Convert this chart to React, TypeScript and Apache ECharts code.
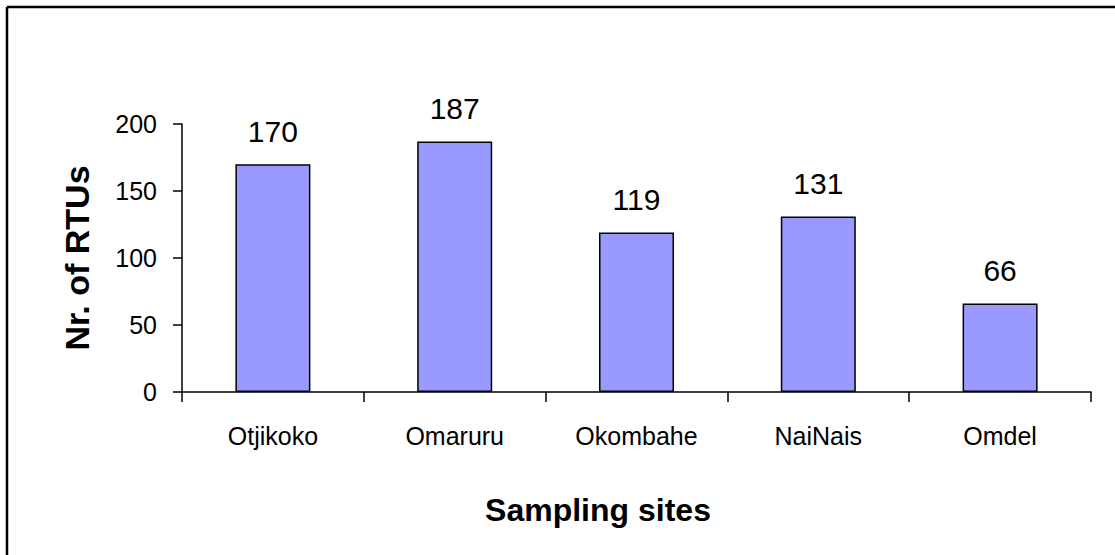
import React, { useEffect, useRef } from "react";
import * as echarts from "echarts";

const categories = ["Otjikoko", "Omaruru", "Okombahe", "NaiNais", "Omdel"];
const values = [170, 187, 119, 131, 66];
const yTicks = { min: 0, max: 200, interval: 50 };
const xTitle = "Sampling sites";
const yTitle = "Nr. of RTUs";

const FONT = "'Liberation Sans', Arial, sans-serif";

export default function App() {
  const ref = useRef<HTMLDivElement>(null);
  useEffect(() => {
    document.body.style.margin = "0";
    if (!ref.current) return;
    const chart = echarts.init(ref.current, undefined, { renderer: "svg" });
    chart.setOption({
      animation: false,
      backgroundColor: "#ffffff",
      grid: { left: 182, top: 124, right: 24, bottom: 163, containLabel: false },
      xAxis: {
        type: "category",
        data: categories,
        axisLine: { lineStyle: { color: "#000", width: 1.5 } },
        axisTick: { show: true, length: 10, lineStyle: { color: "#000", width: 1.5 } },
        axisLabel: { color: "#000", fontSize: 25, fontFamily: FONT, margin: 31 },
      },
      yAxis: {
        type: "value",
        min: yTicks.min,
        max: yTicks.max,
        interval: yTicks.interval,
        name: yTitle,
        nameLocation: "middle",
        nameGap: 88,
        nameTextStyle: { color: "#000", fontSize: 34, fontWeight: "bold", fontFamily: FONT },
        axisLine: { show: true, lineStyle: { color: "#000", width: 1.5 } },
        axisTick: { show: true, length: 9, lineStyle: { color: "#000", width: 1.5 } },
        axisLabel: { color: "#000", fontSize: 25, fontFamily: FONT, margin: 25 },
        splitLine: { show: false },
      },
      graphic: [
        {
          type: "line",
          shape: { x1: 7, y1: 7, x2: 1115, y2: 7 },
          style: { stroke: "#000", lineWidth: 2.5 },
        },
        {
          type: "line",
          shape: { x1: 7, y1: 7, x2: 7, y2: 555 },
          style: { stroke: "#000", lineWidth: 2.5 },
        },
        {
          type: "text",
          x: 598,
          y: 494,
          style: {
            text: xTitle,
            fill: "#000",
            fontSize: 32,
            fontWeight: "bold",
            fontFamily: FONT,
            textAlign: "center",
            textVerticalAlign: "top",
          },
        },
      ],
      series: [
        {
          type: "bar",
          data: values,
          barWidth: 75,
          itemStyle: { color: "#9999FF", borderColor: "#000", borderWidth: 1.5 },
          label: {
            show: true,
            position: "top",
            distance: 18,
            color: "#000",
            fontSize: 30,
            fontFamily: FONT,
          },
        },
      ],
    });
    return () => chart.dispose();
  }, []);
  return <div ref={ref} style={{ width: 1115, height: 555 }} />;
}
